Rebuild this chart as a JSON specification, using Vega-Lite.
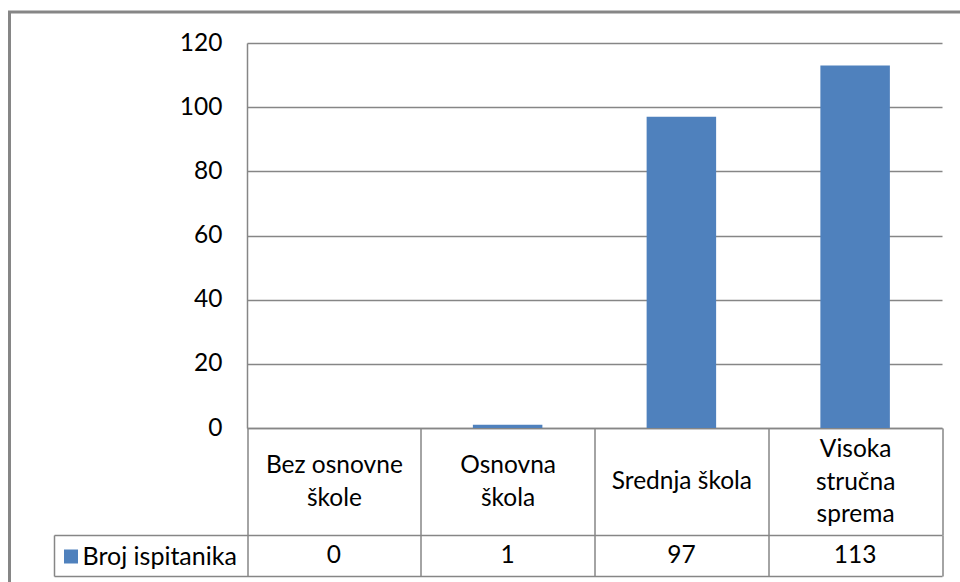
{
  "$schema": "https://vega.github.io/schema/vega-lite/v6.json",
  "autosize": "none",
  "padding": {"left": 9.5, "top": 12, "right": 0, "bottom": 0},
  "width": 960,
  "height": 580,
  "background": "#ffffff",
  "config": {
    "view": {"stroke": "#868686", "strokeWidth": 3},
    "font": "Lato"
  },
  "data": {
    "values": [
      {"category": "Bez osnovne škole", "value": 0, "series": "Broj ispitanika"},
      {"category": "Osnovna škola", "value": 1, "series": "Broj ispitanika"},
      {"category": "Srednja škola", "value": 97, "series": "Broj ispitanika"},
      {"category": "Visoka stručna sprema", "value": 113, "series": "Broj ispitanika"}
    ]
  },
  "layer": [
    {
      "mark": {"type": "bar", "width": {"band": 0.4}},
      "encoding": {
        "x": {
          "field": "category", "type": "nominal", "sort": null,
          "scale": {"type": "band", "range": [237.5, 932.5], "paddingInner": 0, "paddingOuter": 0},
          "axis": {
            "orient": "bottom", "offset": -164, "title": null,
            "domain": true, "domainColor": "#868686", "domainWidth": 1.5,
            "ticks": true, "tickBand": "extent", "tickSize": 107, "tickColor": "#868686", "tickWidth": 1.5,
            "labels": true,
            "labelPadding": {
              "condition": [
                {"test": "datum.value == 'Srednja škola'", "value": -53.5},
                {"test": "datum.value == 'Visoka stručna sprema'", "value": -85.5}
              ],
              "value": -69.5
            },
            "labelBaseline": "middle", "labelAngle": 0, "labelAlign": "center",
            "labelFontSize": 24.5, "labelFont": "Lato", "labelColor": "#000000", "labelLineHeight": 32.5,
            "labelOverlap": false, "labelBound": false, "labelLimit": 0, "labelFlush": false,
            "labelExpr": "datum.value == 'Bez osnovne škole' ? ['Bez osnovne', 'škole'] : datum.value == 'Osnovna škola' ? ['Osnovna', 'škola'] : datum.value == 'Visoka stručna sprema' ? ['Visoka', 'stručna', 'sprema'] : datum.value",
            "grid": false
          }
        },
        "y": {
          "field": "value", "type": "quantitative",
          "scale": {"domain": [0, 120], "range": [416, 31], "nice": false, "zero": true},
          "axis": {
            "orient": "left", "offset": -237.5, "title": null,
            "values": [0, 20, 40, 60, 80, 100, 120],
            "domain": true, "domainColor": "#868686", "domainWidth": 1.5,
            "ticks": false, "labelPadding": 25,
            "labelFontSize": 24.5, "labelFont": "Lato", "labelColor": "#000000",
            "labelOverlap": false, "labelFlush": false,
            "grid": true, "gridColor": "#868686", "gridWidth": 1.5
          }
        },
        "color": {
          "field": "series", "type": "nominal",
          "scale": {"range": ["#4F81BD"]},
          "legend": {
            "orient": "none", "legendX": 49, "legendY": 532, "title": null,
            "symbolType": "square", "symbolSize": 196, "symbolStrokeWidth": 0,
            "labelFontSize": 25, "labelFont": "Lato", "labelColor": "#000000",
            "labelOffset": -1, "padding": 0, "labelLimit": 0
          }
        }
      }
    },
    {
      "mark": {"type": "text", "fontSize": 24.5, "font": "Lato", "color": "#000000", "baseline": "middle", "align": "center"},
      "encoding": {
        "x": {
          "field": "category", "type": "nominal", "sort": null,
          "scale": {"type": "band", "range": [237.5, 932.5], "paddingInner": 0, "paddingOuter": 0},
          "axis": {
            "orient": "bottom", "offset": -16, "title": null,
            "domain": false,
            "ticks": true, "tickBand": "extent", "tickSize": -41, "tickColor": "#868686", "tickWidth": 1.5,
            "labels": false, "grid": false
          }
        },
        "y": {
          "field": "series", "type": "nominal",
          "scale": {"type": "band", "range": [523, 564], "paddingInner": 0, "paddingOuter": 0},
          "axis": {
            "orient": "left", "offset": -44.5, "title": null,
            "domain": true, "domainColor": "#868686", "domainWidth": 1.5,
            "ticks": true, "tickBand": "extent", "tickSize": -888, "tickColor": "#868686", "tickWidth": 1.5,
            "labels": false, "grid": false
          }
        },
        "text": {"field": "value", "type": "quantitative"}
      }
    }
  ],
  "resolve": {
    "scale": {"y": "independent"},
    "axis": {"x": "independent", "y": "independent"}
  }
}
